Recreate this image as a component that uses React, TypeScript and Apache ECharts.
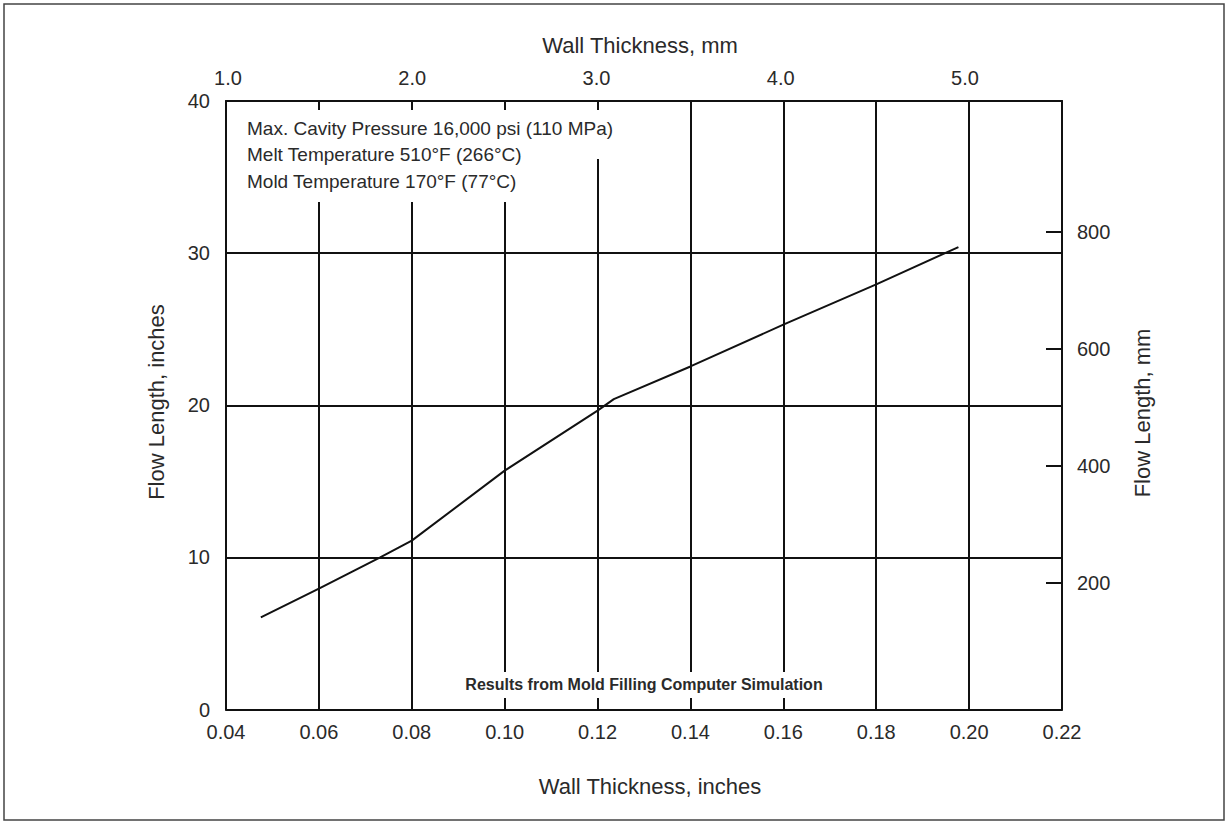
import React, { useEffect, useRef } from "react";
import * as echarts from "echarts";

// Data
const wallThicknessIn = [0.0475, 0.06, 0.0732, 0.08, 0.10, 0.12, 0.1235, 0.14, 0.16, 0.18, 0.1977];
const flowLengthIn = [6.06, 7.95, 10.0, 11.1, 15.7, 19.65, 20.4, 22.55, 25.3, 27.95, 30.4];

const inchAxisRange = [0.04, 0.22];
const inchAxisStep = 0.02;
const flowInRange = [0, 40];
const flowInStep = 10;
const mmTopTicks = [1, 2, 3, 4, 5];
const mmTopRange = [0.989, 5.527];
const mmFlowTicks = [200, 400, 600, 800];
const mmFlowRange = [-16, 1024];

const noteLines = [
  "Max. Cavity Pressure 16,000 psi (110 MPa)",
  "Melt Temperature 510°F (266°C)",
  "Mold Temperature 170°F (77°C)",
];
const simulationNote = "Results from Mold Filling Computer Simulation";
const titleTop = "Wall Thickness, mm";
const titleBottom = "Wall Thickness, inches";
const titleLeft = "Flow Length, inches";
const titleRight = "Flow Length, mm";

const FONT = "'Liberation Sans', Arial, sans-serif";
const INK = "#111";
const TXT = "#2a2a2a";

export default function App() {
  const ref = useRef<HTMLDivElement>(null);

  useEffect(() => {
    document.body.style.margin = "0";
    if (!ref.current) return;
    const chart = echarts.init(ref.current, undefined, { renderer: "svg" });
    const lineStyle = { color: INK, width: 2 };
    const labelStyle = { color: TXT, fontSize: 20, fontFamily: FONT };

    chart.setOption({
      animation: false,
      backgroundColor: "#fff",
      grid: { left: 226, top: 101, right: 167, bottom: 115.5, containLabel: false },
      xAxis: [
        {
          type: "value",
          position: "bottom",
          min: inchAxisRange[0],
          max: inchAxisRange[1],
          interval: inchAxisStep,
          axisLine: { show: true, onZero: false, lineStyle },
          axisTick: { show: false },
          splitLine: { show: true, lineStyle },
          axisLabel: { ...labelStyle, margin: 12, formatter: (v: number) => v.toFixed(2) },
        },
        {
          type: "value",
          position: "top",
          min: mmTopRange[0],
          max: mmTopRange[1],
          axisLine: { show: true, onZero: false, lineStyle },
          axisTick: { show: false },
          splitLine: { show: false },
          axisLabel: {
            ...labelStyle,
            margin: 13,
            customValues: mmTopTicks,
            formatter: (v: number) => v.toFixed(1),
          },
        },
      ],
      yAxis: [
        {
          type: "value",
          position: "left",
          min: flowInRange[0],
          max: flowInRange[1],
          interval: flowInStep,
          axisLine: { show: true, onZero: false, lineStyle },
          axisTick: { show: false },
          splitLine: { show: true, lineStyle },
          axisLabel: { ...labelStyle, margin: 16 },
        },
        {
          type: "value",
          position: "right",
          min: mmFlowRange[0],
          max: mmFlowRange[1],
          axisLine: { show: true, onZero: false, lineStyle },
          axisTick: { show: true, inside: true, length: 16, lineStyle, customValues: mmFlowTicks },
          splitLine: { show: false },
          axisLabel: { ...labelStyle, margin: 15, customValues: mmFlowTicks },
        },
      ],
      series: [
        {
          type: "line",
          xAxisIndex: 0,
          yAxisIndex: 0,
          data: wallThicknessIn.map((x, i) => [x, flowLengthIn[i]]),
          symbol: "none",
          lineStyle: { color: INK, width: 2 },
          z: 3,
        },
      ],
      graphic: [
        {
          type: "rect",
          z: 0,
          silent: true,
          shape: { x: 4, y: 4, width: 1220, height: 816 },
          style: { fill: "none", stroke: "#444", lineWidth: 1.5 },
        },
        {
          type: "rect",
          z: 5,
          shape: { x: 238, y: 110, width: 392, height: 49 },
          style: { fill: "#fff" },
        },
        {
          type: "rect",
          z: 5,
          shape: { x: 238, y: 158, width: 290, height: 44 },
          style: { fill: "#fff" },
        },
        {
          type: "rect",
          z: 5,
          shape: { x: 460, y: 672, width: 368, height: 26 },
          style: { fill: "#fff" },
        },
        ...noteLines.map((t, i) => ({
          type: "text",
          z: 6,
          x: 247,
          y: 128 + i * 26.5,
          style: {
            text: t,
            fill: TXT,
            fontSize: 19,
            fontFamily: FONT,
            textAlign: "left",
            textVerticalAlign: "middle",
          },
        })),
        {
          type: "text",
          z: 6,
          x: 644,
          y: 684,
          style: {
            text: simulationNote,
            fill: TXT,
            fontSize: 16,
            fontWeight: "bold",
            fontFamily: FONT,
            textAlign: "center",
            textVerticalAlign: "middle",
          },
        },
        {
          type: "text",
          z: 6,
          x: 640,
          y: 45,
          style: { text: titleTop, fill: TXT, fontSize: 22, fontFamily: FONT, textAlign: "center", textVerticalAlign: "middle" },
        },
        {
          type: "text",
          z: 6,
          x: 650,
          y: 786,
          style: { text: titleBottom, fill: TXT, fontSize: 22, fontFamily: FONT, textAlign: "center", textVerticalAlign: "middle" },
        },
        {
          type: "text",
          z: 6,
          x: 156,
          y: 402,
          rotation: Math.PI / 2,
          style: { text: titleLeft, fill: TXT, fontSize: 22, fontFamily: FONT, textAlign: "center", textVerticalAlign: "middle" },
        },
        {
          type: "text",
          z: 6,
          x: 1142,
          y: 413,
          rotation: Math.PI / 2,
          style: { text: titleRight, fill: TXT, fontSize: 22, fontFamily: FONT, textAlign: "center", textVerticalAlign: "middle" },
        },
      ],
    });

    return () => chart.dispose();
  }, []);

  return <div ref={ref} style={{ width: 1229, height: 825 }} />;
}
